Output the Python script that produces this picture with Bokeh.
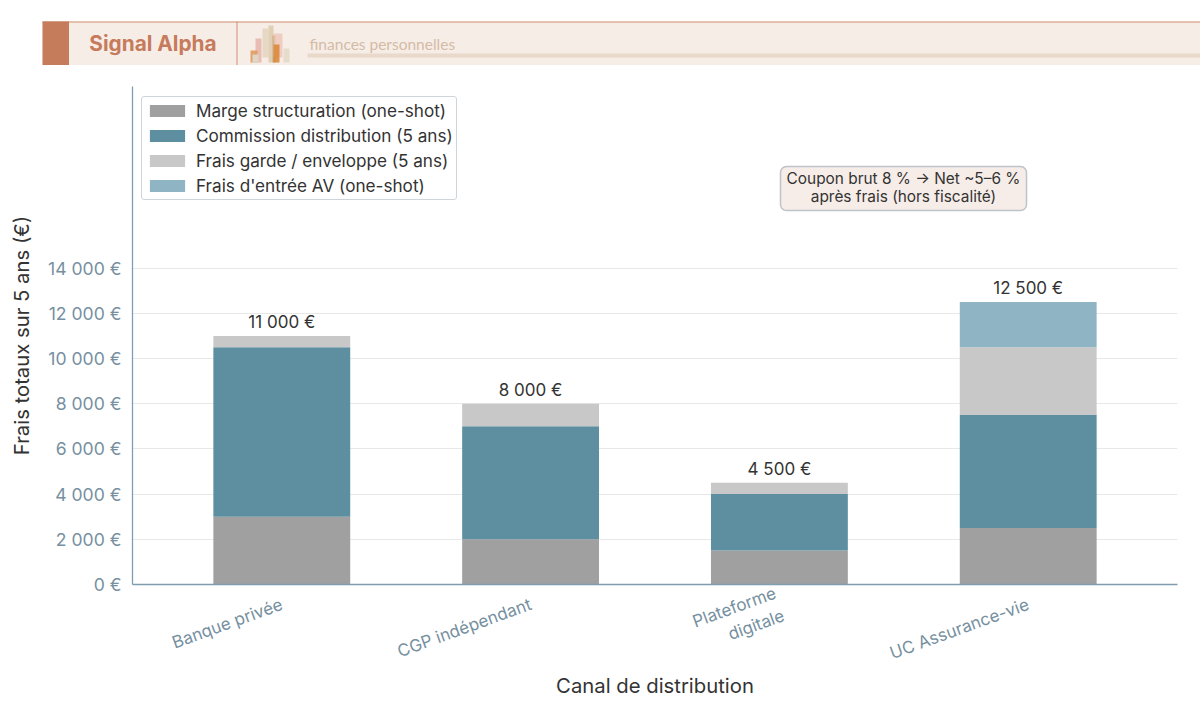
import math
from bokeh.embed import file_html
from bokeh.resources import INLINE
from bokeh.plotting import figure
from bokeh.layouts import column
from bokeh.models import (FactorRange, Range1d, FixedTicker, Legend, LegendItem, Label,
                          BoxAnnotation, ColumnDataSource)
from bokeh.core.properties import value

canaux = ["Banque privée", "CGP indépendant", "Plateforme\ndigitale", "UC Assurance-vie"]
marge = [3000, 2000, 1500, 2500]
commission = [7500, 5000, 2500, 5000]
garde = [500, 1000, 500, 3000]
entree = [0, 0, 0, 2000]
series_noms = ["Marge structuration (one-shot)", "Commission distribution (5 ans)",
               "Frais garde / enveloppe (5 ans)", "Frais d'entrée AV (one-shot)"]
couleurs = ["#a0a0a0", "#5d8fa1", "#c8c8c8", "#8fb5c5"]
y_ticks = [0, 2000, 4000, 6000, 8000, 10000, 12000, 14000]

TXT = "#333333"
AX = "#7f9fb0"
TICK = "#76909f"

# ---------- header ----------
h = figure(width=1200, height=70, x_range=Range1d(0, 1200), y_range=Range1d(70, 0),
           output_backend="svg", toolbar_location=None, min_border=0, frame_align=False)
h.axis.visible = False
h.grid.visible = False
h.outline_line_color = None
h.quad(left=[42], right=[1200], top=[21], bottom=[64.5], fill_color="#f7ede7", line_color=None)
h.quad(left=[42], right=[1200], top=[21], bottom=[22], fill_color="#d08f75", line_color=None)
h.quad(left=[42], right=[68.5], top=[21], bottom=[64.5], fill_color="#c47c5a", line_color=None)
h.quad(left=[236], right=[237], top=[21], bottom=[64.5], fill_color="#d08f75", line_color=None)
h.quad(left=[307], right=[1200], top=[53], bottom=[57], fill_color="#e8d9ca", line_color=None)
deco = [
    (255, 261, 38, 62, "#e5b0a8", 0.8), (250, 257, 50, 62, "#e09a5c", 0.9), (252, 258, 54, 62, "#e0d6c6", 1),
    (262, 268, 28, 57, "#e6d8c4", 1), (268, 273, 25, 62, "#e0cfb4", 1), (272, 275, 35, 62, "#c9a878", 1),
    (273, 282, 33, 57, "#ecc4b8", 0.8), (273, 279, 44, 62, "#d98a3c", 0.9), (283, 289, 48, 62, "#e6dccb", 1),
]
for l, r, t, b, c, a in deco:
    h.quad(left=[l], right=[r], top=[t], bottom=[b], fill_color=c, fill_alpha=a, line_color=None)
h.text(x=[152.5], y=[43], text=["Signal Alpha"], text_font=value("Inter"), text_font_style="bold",
       text_font_size="20.8px", text_color="#c67b5c", text_align="center", text_baseline="middle")
h.text(x=[309], y=[43], text=["finances personnelles"], text_font=value("Lato"),
       text_font_size="15.5px", text_color="#d4bba5", text_align="left", text_baseline="middle")

# ---------- main ----------
p = figure(width=1200, height=651, x_range=FactorRange(factors=canaux, range_padding=0.05),
           y_range=Range1d(0, 22040), output_backend="svg", toolbar_location=None, frame_align=False,
           min_border_left=132, min_border_right=23, min_border_top=16, min_border_bottom=137)
p.outline_line_color = None
p.xgrid.visible = False
p.ygrid.grid_line_color = "#e8e8e8"
p.ygrid.grid_line_width = 1
p.ygrid.ticker = FixedTicker(ticks=y_ticks)
p.yaxis.ticker = FixedTicker(ticks=y_ticks)
p.yaxis.major_label_overrides = {t: f"{t:,}".replace(",", " ") + " €" for t in y_ticks}

for ax in (p.xaxis[0], p.yaxis[0]):
    ax.axis_line_color = AX
    ax.axis_line_width = 1.3
    ax.major_tick_line_color = None
    ax.minor_tick_line_color = None
    ax.major_tick_out = 0
    ax.major_label_text_font = "Inter"
    ax.major_label_text_font_size = "17px"
    ax.major_label_text_color = TICK
    ax.axis_label_text_font = "Inter"
    ax.axis_label_text_font_size = "20.3px"
    ax.axis_label_text_font_style = "normal"
    ax.axis_label_text_color = TXT
p.xaxis.axis_label = "Canal de distribution"
p.yaxis.axis_label = "Frais totaux sur 5 ans (€)"
p.yaxis.major_label_text_font_size = "17.6px"
p.yaxis.major_label_standoff = 11
p.xaxis.major_label_standoff = 19
p.xaxis.major_label_orientation = math.radians(20)
p.xaxis.axis_label_standoff = -5
p.yaxis.axis_label_standoff = 11

src = ColumnDataSource(dict(x=canaux, marge=marge, commission=commission, garde=garde, entree=entree))
keys = ["marge", "commission", "garde", "entree"]
rs = p.vbar_stack(keys, x="x", width=0.55, color=couleurs, line_color=None, source=src)

totaux = [a + b + c + d for a, b, c, d in zip(marge, commission, garde, entree)]
labels = [f"{t:,}".replace(",", " ") + " €" for t in totaux]
p.text(x=canaux, y=totaux, text=labels, text_font=value("Inter"), text_font_size="17px",
       text_color=TXT, text_align="center", text_baseline="bottom", y_offset=-4)

legend = Legend(items=[LegendItem(label=value(n), renderers=[r]) for n, r in zip(series_noms, rs)],
                location=(9, 384), orientation="vertical")
legend.label_text_font = "Inter"
legend.label_text_font_size = "17.15px"
legend.label_text_color = TXT
legend.glyph_width = 44
legend.glyph_height = 15
legend.label_standoff = 7
legend.spacing = 4
legend.padding = 3
legend.margin = 0
legend.border_line_color = "#cfd5da"
legend.border_line_alpha = 1
legend.border_line_width = 1.5
legend.border_radius = 3
legend.background_fill_alpha = 1
p.add_layout(legend)

note_box = BoxAnnotation(left=780, right=1026, top=96, bottom=140,
                         left_units="canvas", right_units="canvas", top_units="canvas", bottom_units="canvas",
                         fill_color="#f7ede8", fill_alpha=1, line_color="#bcc3c9", line_alpha=1, line_width=1.5,
                         border_radius=6)
p.add_layout(note_box)
for txt, yy in (("Coupon brut 8 % → Net ~5–6 %", 406.5), ("après frais (hors fiscalité)", 388.5)):
    p.add_layout(Label(x=771, y=yy, x_units="screen", y_units="screen", text=txt,
                       text_font="Inter", text_font_size="15.4px", text_color=TXT,
                       text_align="center", text_baseline="middle"))

page = column(h, p, spacing=0)
open("out.html", "w").write(file_html(page, INLINE))
